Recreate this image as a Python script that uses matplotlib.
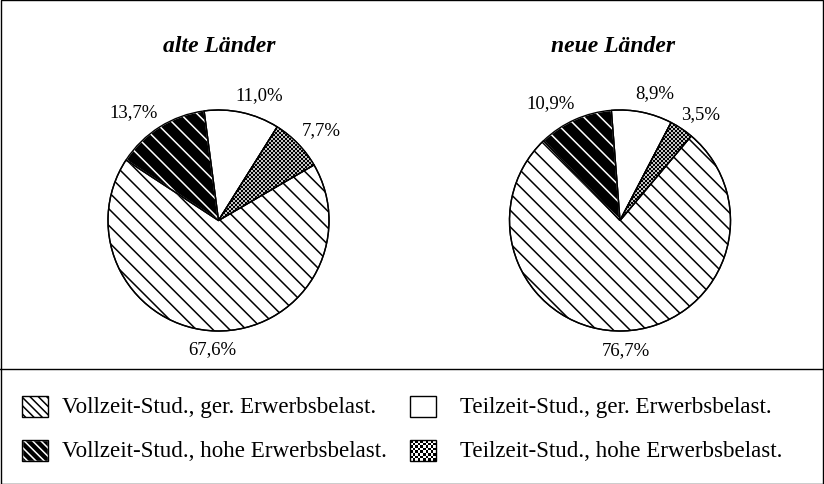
import numpy as np
import matplotlib
matplotlib.use('Agg')
import matplotlib.pyplot as plt
from matplotlib.patches import Rectangle

plt.rcParams['font.family'] = ['Liberation Serif', 'DejaVu Serif']
plt.rcParams['hatch.linewidth'] = 1.1

# data: shares in percent, clockwise from the top
categories = ['Teilzeit-Stud., ger. Erwerbsbelast.',
              'Teilzeit-Stud., hohe Erwerbsbelast.',
              'Vollzeit-Stud., ger. Erwerbsbelast.',
              'Vollzeit-Stud., hohe Erwerbsbelast.']
alte = [11.0, 7.7, 67.6, 13.7]
neue = [8.9, 3.5, 76.7, 10.9]
titles = ['alte Länder', 'neue Länder']

# layout (pixels, y from top)
W, H = 824, 485
label_pos_alte = [(0.37, 1.14), (0.93, 0.82), (-0.06, -1.16), (-0.77, 0.99)]
label_pos_neue = [(0.31, 1.16), (0.73, 0.97), (0.05, -1.17), (-0.63, 1.07)]

fig = plt.figure(figsize=(W / 100, H / 100), dpi=100)

bg = fig.add_axes([0, 0, 1, 1])
bg.axis('off')


def pie_axes(cx, cy, r):
    return fig.add_axes([(cx - r) / W, (H - cy - r) / H, 2 * r / W, 2 * r / H])


def fmt(v):
    return f'{v:.1f}%'.replace('.', ',')


def draw_pie(ax, values, start, label_pos):
    wedges, _ = ax.pie(values, startangle=start, counterclock=False,
                       wedgeprops=dict(linewidth=1, edgecolor='black'))
    w_tg, w_th, w_vg, w_vh = wedges
    w_tg.set_facecolor('white')
    w_vg.set_facecolor('white')
    w_vg.set_hatch('\\\\')
    w_vh.set_facecolor('black')
    w_vh.set_edgecolor('white')
    w_vh.set_hatch('\\\\')
    w_th.set_facecolor('none')

    n = 110
    checker = np.indices((n, n)).sum(axis=0) % 2
    img = ax.imshow(checker, cmap='gray', vmin=0, vmax=1.3, extent=(-1, 1, -1, 1),
                    interpolation='nearest', zorder=1.5)
    img.set_clip_path(w_th)

    # black outlines on top
    outl, _ = ax.pie(values, startangle=start, counterclock=False,
                     wedgeprops=dict(fill=False, linewidth=1, edgecolor='black'))
    for w in list(wedges) + list(outl):
        w.set_clip_on(False)
    for w in outl:
        w.set_zorder(3)

    for v, (x, y) in zip(values, label_pos):
        ax.text(x, y, fmt(v), ha='center', va='center', fontsize=13.5)

    ax.set_xlim(-1, 1)
    ax.set_ylim(-1, 1)
    ax.set_aspect('auto')
    ax.axis('off')


ax1 = pie_axes(218.5, 221.5, 110.5)
draw_pie(ax1, alte, 97.5, label_pos_alte)
ax2 = pie_axes(620, 221.5, 110.5)
draw_pie(ax2, neue, 94.5, label_pos_neue)

# titles
bg.text(219, 46, titles[0], ha='center', va='center', fontsize=17,
        fontweight='bold', fontstyle='italic')
bg.text(613, 46, titles[1], ha='center', va='center', fontsize=17,
        fontweight='bold', fontstyle='italic')

# frame
bg.add_patch(Rectangle((0.5, 0.5), W - 1, H - 1, fill=False, lw=1, ec='black'))
bg.plot([0, W], [370, 370], color='black', lw=1)

# legend
bw, bh = 26, 21
rows = [397, 441]
cols = [22, 410]
tx = [62, 460]
fs = 16.6
# Vollzeit ger
bg.add_patch(Rectangle((cols[0], rows[0]), bw, bh, facecolor='white',
                       edgecolor='black', hatch='\\\\\\\\', lw=1))
bg.text(tx[0], rows[0] + bh / 2, categories[2], va='center', fontsize=fs)
# Vollzeit hohe
bg.add_patch(Rectangle((cols[0], rows[1]), bw, bh, facecolor='black',
                       edgecolor='white', hatch='\\\\\\\\', lw=1))
bg.add_patch(Rectangle((cols[0], rows[1]), bw, bh, fill=False,
                       edgecolor='black', lw=1))
bg.text(tx[0], rows[1] + bh / 2, categories[3], va='center', fontsize=fs)
# Teilzeit ger
bg.add_patch(Rectangle((cols[1], rows[0]), bw, bh, facecolor='white',
                       edgecolor='black', lw=1))
bg.text(tx[1], rows[0] + bh / 2, categories[0], va='center', fontsize=fs)
# Teilzeit hohe
leg_checker = np.indices((8, 10)).sum(axis=0) % 2
bg.imshow(leg_checker, cmap='gray', vmin=0, vmax=1, interpolation='nearest',
          extent=(cols[1], cols[1] + bw, rows[1] + bh, rows[1]))
bg.add_patch(Rectangle((cols[1], rows[1]), bw, bh, fill=False,
                       edgecolor='black', lw=1))
bg.text(tx[1], rows[1] + bh / 2, categories[1], va='center', fontsize=fs)

bg.set_xlim(0, W)
bg.set_ylim(H, 0)
bg.set_aspect('auto')

fig.savefig('out.png', dpi=100)
